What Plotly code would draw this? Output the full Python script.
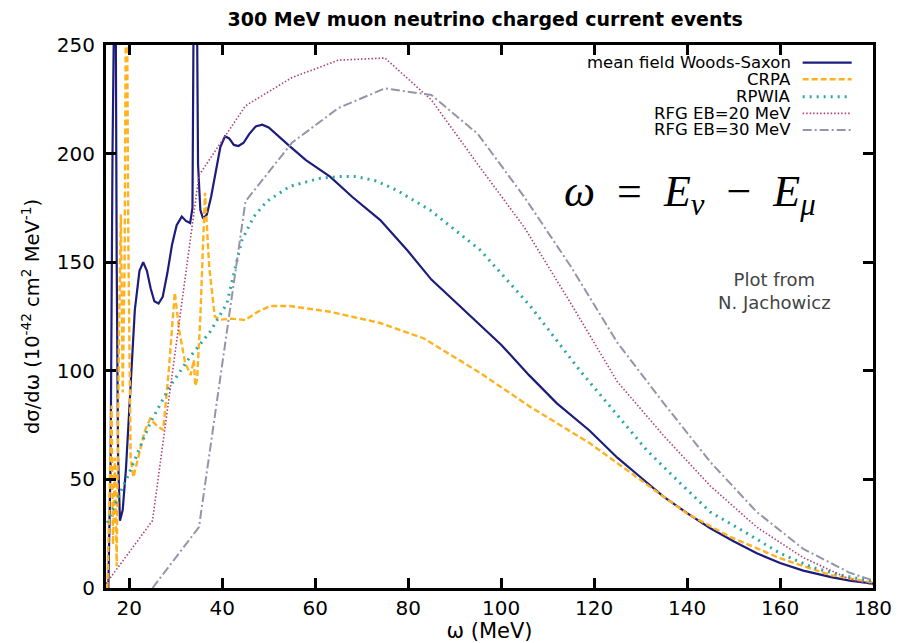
import plotly.graph_objects as go

# ---------------- data ----------------
ws_x = [15.5, 16.0, 16.4, 16.7, 17.0, 17.3, 17.6, 18.0, 18.6, 19.3, 20.2, 21.2, 22.2, 23.0, 23.8, 24.6, 25.4, 26.3, 27.2, 28.2, 29.2, 30.2, 31.3, 32.2, 33.1, 33.6, 34.0, 34.4, 34.8, 35.3, 35.9, 36.7, 37.6, 38.6, 39.6, 40.6, 41.5, 42.5, 43.5, 44.6, 45.8, 47.2, 48.6, 50.0, 52.0, 54.2, 58.0, 63.2, 68.0, 74.0, 80.0, 85.0, 90.0, 95.0, 100.0, 106.0, 112.0, 119.0, 125.0, 130.0, 135.0, 140.0, 145.0, 150.0, 155.0, 160.0, 165.0, 171.0, 175.0, 180.0]
ws_y = [0, 60, 200, 320, 320, 150, 60, 31, 36, 55, 92, 128, 146, 150, 146, 138, 132, 131, 134, 145, 158, 167, 171, 169, 168, 175, 320, 320, 195, 174, 170, 172, 180, 192, 203, 208, 207, 204, 203.5, 205, 209, 212.5, 213.3, 212, 208, 204, 197, 189.4, 180, 169.4, 155, 142, 132, 122, 112, 98, 85, 72.5, 60, 51, 42, 34.5, 27.5, 21.5, 16, 11.5, 8, 5, 3.4, 2]

crpa_x = [15.3, 15.7, 16.2, 16.5, 16.9, 17.3, 17.8, 18.2, 18.6, 19.0, 19.4, 19.8, 20.3, 20.9, 22.0, 23.3, 24.5, 25.8, 27.3, 28.5, 29.8, 30.8, 32.0, 33.2, 33.9, 34.2, 34.6, 35.3, 36.3, 37.2, 38.4, 39.5, 42.0, 45.0, 47.5, 50.3, 54.6, 63.2, 74.0, 83.3, 95.5, 106.2, 119.1, 129.9, 139.9, 149.2, 160.0, 170.8, 180.0]
crpa_y = [0, 40, 84, 20, 60, 10, 120, 172, 90, 150, 320, 160, 60, 51, 60, 72, 78, 75, 72.7, 100, 136, 118, 104, 98, 105, 93, 96, 125, 182, 148, 125, 123.5, 124, 123.4, 127, 129.8, 129.8, 127.2, 122, 115, 99, 83.5, 66.6, 49.7, 34.4, 23.6, 13.7, 6, 2.5]

rpwia_x = [15.3, 16.0, 20.2, 24.5, 28.8, 33.1, 37.4, 41.0, 44.2, 46.8, 49.6, 54.6, 61.0, 65.0, 68.9, 73.0, 77.5, 84.7, 95.5, 106.2, 117.0, 124.0, 131.3, 138.5, 145.0, 152.8, 160.0, 167.0, 173.0, 180.0]
rpwia_y = [30, 34, 54, 76, 93, 106.5, 118, 131, 160, 171, 178, 185, 188.6, 189.4, 189.4, 187.5, 183.2, 174, 155.6, 130, 100, 82, 63.5, 48.3, 35, 25.3, 16, 9.5, 6, 3]

rfg20_x = [15.0, 25.0, 35.0, 45.0, 55.0, 65.0, 75.0, 85.0, 95.0, 105.0, 115.0, 125.0, 135.0, 145.0, 155.0, 165.0, 175.0, 180.0]
rfg20_y = [2, 31, 190, 222, 235, 243, 244, 224.7, 195, 166, 131, 95, 70, 47, 28, 14, 4, 1.5]

rfg30_x = [25.0, 35.0, 45.0, 55.0, 65.0, 75.0, 85.0, 95.0, 105.0, 115.0, 125.0, 135.0, 145.0, 155.0, 165.0, 175.0, 180.0]
rfg30_y = [0, 28, 178, 205, 221, 230, 227, 209, 180, 148, 113, 85, 58, 35, 18, 7, 3.5]

series_names = ["mean field Woods-Saxon", "CRPA", "RPWIA", "RFG EB=20 MeV", "RFG EB=30 MeV"]
x_ticks = [20, 40, 60, 80, 100, 120, 140, 160, 180]
y_ticks = [0, 50, 100, 150, 200, 250]

# ---------------- styles ----------------
styles = [
    dict(color="#1c1c7c", width=2.2, dash="solid"),
    dict(color="#ffb21e", width=2.4, dash="6px,3px"),
    dict(color="#2aa8a4", width=3.0, dash="2px,5px"),
    dict(color="#b0407a", width=1.6, dash="1.5px,2px"),
    dict(color="#9494aa", width=2.0, dash="9px,3px,2px,3px"),
]
data = [(ws_x, ws_y), (crpa_x, crpa_y), (rpwia_x, rpwia_y), (rfg20_x, rfg20_y), (rfg30_x, rfg30_y)]

fig = go.Figure()
for (xs, ys), name, st in zip(data, series_names, styles):
    fig.add_trace(go.Scatter(x=xs, y=ys, mode="lines", name=name,
                             line=dict(color=st["color"], width=st["width"], dash=st["dash"]),
                             showlegend=False))

font = "DejaVu Sans, Verdana, sans-serif"

# manual gnuplot-style legend (text then sample on the right)
leg_y = [0.9674, 0.9368, 0.9048, 0.874, 0.8435]
for name, st, yy in zip(series_names, styles, leg_y):
    fig.add_annotation(x=0.8944, y=yy, xref="paper", yref="paper", text=name,
                       showarrow=False, xanchor="right", yanchor="middle", borderpad=0,
                       font=dict(family=font, size=16.5, color="black"))
    fig.add_shape(type="line", xref="paper", yref="paper", x0=0.9083, x1=0.9722, y0=yy, y1=yy,
                  line=dict(color=st["color"], width=st["width"], dash=st["dash"]))

fig.add_annotation(x=0.594, y=0.724, xref="paper", yref="paper", xanchor="left", yanchor="middle",
                   text="<i>ω</i>\u2002=\u2002<i>E</i><sub><i>ν</i></sub>\u2002−\u2002<i>E</i><sub><i>μ</i></sub>",
                   showarrow=False, font=dict(family="Liberation Serif, DejaVu Serif, serif", size=44, color="black"))
fig.add_annotation(x=0.872, y=0.547, xref="paper", yref="paper", xanchor="center", yanchor="middle",
                   text="Plot from<br>N. Jachowicz", showarrow=False, align="center",
                   font=dict(family=font, size=18, color="#444444"))

axis_common = dict(showline=True, linecolor="black", linewidth=3, mirror="ticks",
                   ticks="inside", ticklen=10, tickwidth=3, tickcolor="black",
                   showgrid=False, zeroline=False, automargin=False,
                   tickfont=dict(family=font, size=20, color="black"))

# the page places the figure 8 px from the top-left corner, so the figure is 8 px smaller
fig.update_layout(
    width=902, height=635,
    margin=dict(l=98, r=37, t=37, b=55),
    paper_bgcolor="white", plot_bgcolor="white",
    title=dict(text="<b>300 MeV muon neutrino charged current events</b>",
               x=0.529, xanchor="center", y=1 - 11 / 635, yanchor="middle",
               font=dict(family=font, size=19, color="black")),
    xaxis=dict(range=[15, 180], tickvals=x_ticks, ticktext=[str(v) for v in x_ticks],
               title=dict(text="ω (MeV)", standoff=2, font=dict(family=font, size=21, color="black")),
               **axis_common),
    yaxis=dict(range=[0, 250], tickvals=y_ticks, ticktext=[str(v) for v in y_ticks],
               ticklabelstandoff=4,
               title=dict(text="dσ/dω (10<sup>-42</sup> cm<sup>2</sup> MeV<sup>-1</sup>)", standoff=12,
                          font=dict(family=font, size=19.5, color="black")),
               **axis_common),
)

fig.write_html("out.html")
